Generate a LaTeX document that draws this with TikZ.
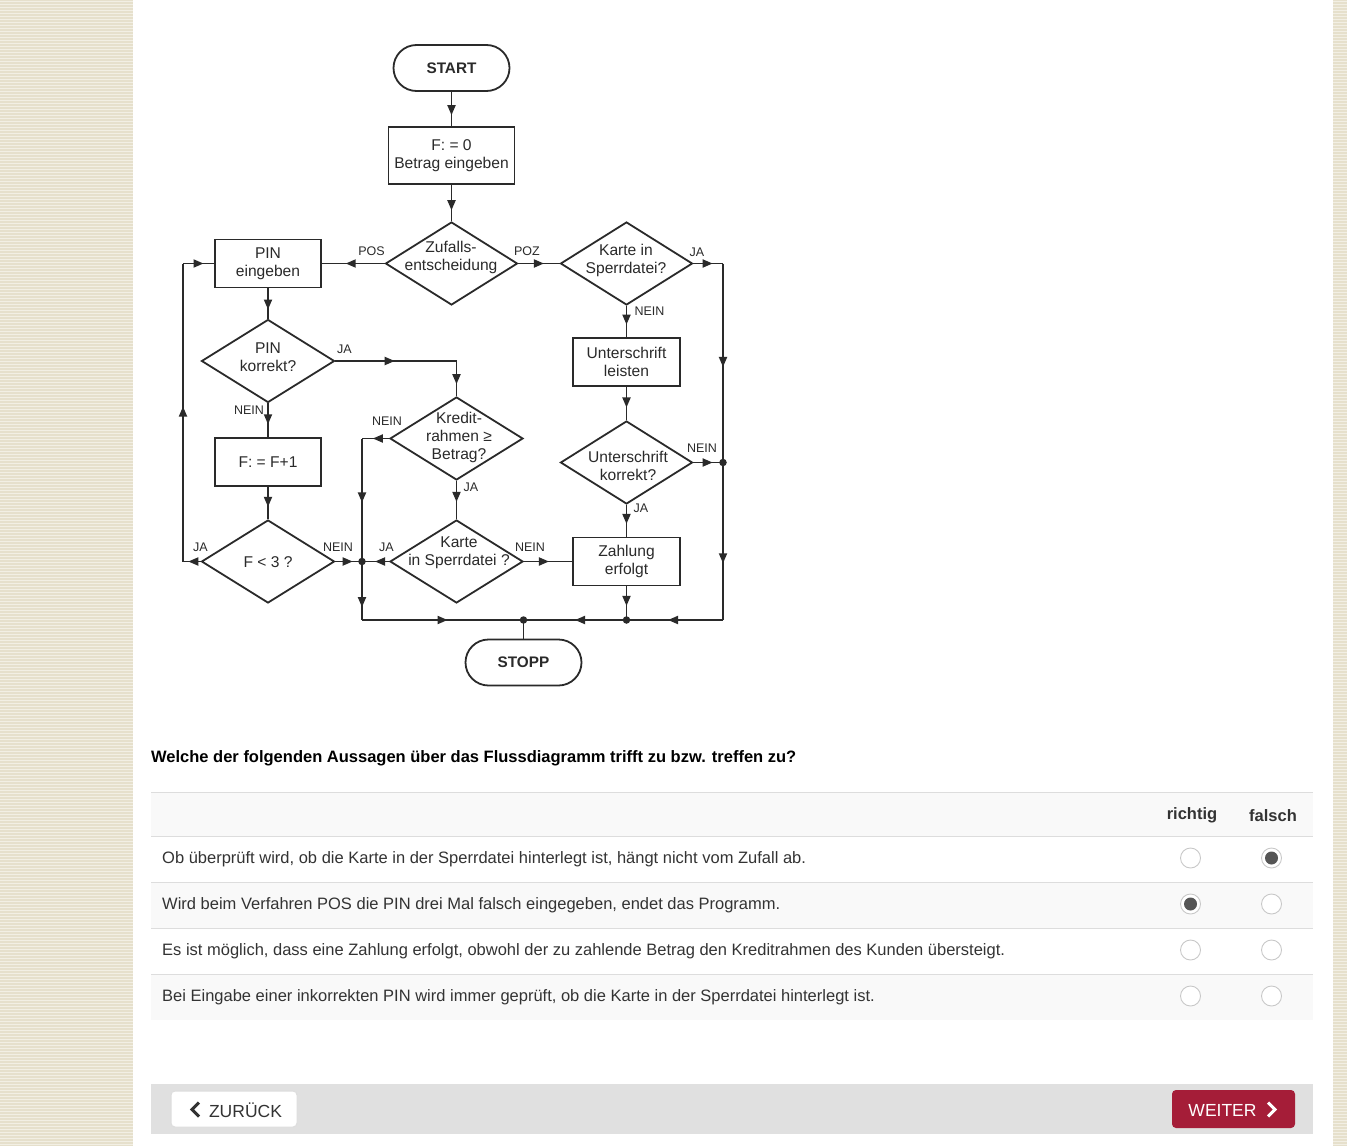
\documentclass[tikz,border=0pt]{standalone}
\usepackage{fontspec}
\setmainfont{Liberation Sans}
\usetikzlibrary{shapes.geometric,arrows.meta,decorations.markings}
\definecolor{beige}{HTML}{E6E0CC}
\definecolor{beigel}{HTML}{F2EFE4}
\definecolor{fcline}{HTML}{2A2A2A}
\definecolor{fctext}{HTML}{2A2A2A}
\definecolor{txt}{HTML}{333333}
\definecolor{rowgray}{HTML}{F9F9F9}
\definecolor{rule}{HTML}{DDDDDD}
\definecolor{footer}{HTML}{E0E0E0}
\definecolor{weiter}{HTML}{A51D38}
\definecolor{radio}{HTML}{C8C8C8}
\definecolor{radiofill}{HTML}{555555}
\newcommand{\fcf}{\fontsize{15.6}{18}\selectfont}
\newcommand{\smf}{\fontsize{12.5}{14}\selectfont}
\newcommand{\bdf}{\fontsize{16.5}{19}\selectfont}
\begin{document}
\begin{tikzpicture}[x=1pt,y=-1pt,
  box/.style={draw=fcline,line width=1.8pt,rectangle,minimum width=106pt,minimum height=48pt,inner sep=0pt,font=\fcf,align=center,text=fctext},
  dia/.style={draw=fcline,line width=1.8pt,diamond,minimum width=132pt,minimum height=83pt,inner sep=0pt},
  dtext/.style={font=\fcf,align=center,text=fctext,inner sep=0pt},
  term/.style={draw=fcline,line width=1.8pt,rectangle,rounded corners=23pt,minimum width=116pt,minimum height=46pt,inner sep=0pt,font=\fontsize{15.3}{18}\selectfont\bfseries,text=fctext},
  lab/.style={font=\smf,inner sep=0pt,text=fctext},
  conn/.style={draw=fcline,line width=1.8pt},
  ar/.style={conn,postaction={decorate},decoration={markings,mark=at position #1 with {\arrow[fcline]{Triangle[length=10pt,width=8pt]}}}},
  jdot/.style={circle,fill=fcline,inner sep=0pt,minimum size=7.5pt},
  rowtext/.style={font=\bdf,text=txt,anchor=west,inner sep=0pt},
  head/.style={font=\bdf\bfseries,text=txt,inner sep=0pt}
]
\useasboundingbox (0,0) rectangle (1347,1146);
% page background
\fill[white] (0,0) rectangle (1347,1146);
\fill[beige] (0,0) rectangle (133,1146);
\fill[beige] (1333,0) rectangle (1347,1146);
\foreach \yy in {1,4,...,1146} {
  \fill[beigel] (0,\yy) rectangle (133,\yy+1.4);
  \fill[beigel] (1333,\yy) rectangle (1347,\yy+1.4);
}

% ---------- flowchart nodes ----------
\node[term] (start) at (451.5,68) {START};
\node[box,minimum width=126pt,minimum height=57pt] (init) at (451.5,155.5) {F: = 0\\Betrag eingeben};
\node[dia] (zuf) at (451.5,263.5) {};
\node[dtext] (zuft) at (451,257) {Zufalls-\\entscheidung};
\node[box] (pin) at (268,263.5) {PIN\\eingeben};
\node[dia] (kart) at (626.5,263.5) {};
\node[dtext] (kartt) at (626,260) {Karte in\\Sperrdatei?};
\node[box,minimum width=107pt] (us) at (626.5,362) {Unterschrift\\leisten};
\node[dia] (usk) at (626.5,462.5) {};
\node[dtext] (uskt) at (628,466) {Unterschrift\\korrekt?};
\node[box,minimum width=107pt] (zahl) at (626.5,561.5) {Zahlung\\erfolgt};
\node[dia,minimum width=133pt] (pk) at (268,361) {};
\node[dtext] (pkt) at (268,357) {PIN\\korrekt?};
\node[box] (finc) at (268,462) {F: = F+1};
\node[dia,minimum width=133pt] (f3) at (268,561.5) {};
\node[dtext] (f3t) at (268,562) {F < 3 ?};
\node[dia,minimum width=133pt] (kr) at (456.5,438.5) {};
\node[dtext] (krt) at (459,437.5) {Kredit-\\rahmen ≥\\Betrag?};
\node[dia,minimum width=133pt] (k2) at (456.5,561.5) {};
\node[dtext] (k2t) at (459,553) {Karte\\in Sperrdatei ?};
\node[term] (stopp) at (523.5,662.5) {STOPP};

% ---------- junctions ----------
\coordinate (rja) at (723,263.5);
\node[jdot] (rn) at (723,462.5) {};
\coordinate (rb) at (723,620);
\node[jdot] (bz) at (626.5,620) {};
\node[jdot] (bs) at (523.5,620) {};
\coordinate (bl) at (362,620);
\node[jdot] (lj) at (362,561.5) {};
\coordinate (lk) at (362,438.5);
\coordinate (pj) at (456.5,361);
\coordinate (fl) at (183,561.5);
\coordinate (ft) at (183,263.5);

% ---------- connectors ----------
\draw[ar=0.68] (start.south) -- (init.north);
\draw[ar=0.7] (init.south) -- (zuf.north);
\draw[ar=0.62] (zuf.west) -- (pin.east);
\draw[ar=0.62] (zuf.east) -- (kart.west);
\draw[ar=0.65] (kart.east) -- (rja);
\draw[ar=0.52] (rja) -- (rn.center);
\draw[ar=0.64] (rn.center) -- (rb);
\draw[ar=0.6] (kart.south) -- (us.north);
\draw[ar=0.62] (us.south) -- (usk.north);
\draw[ar=0.65] (usk.east) -- (rn.center);
\draw[ar=0.6] (usk.south) -- (zahl.north);
\draw[ar=0.58] (zahl.south) -- (bz.center);
\draw[ar=0.57] (rb) -- (bz.center);
\draw[ar=0.5] (bz.center) -- (bs.center);
\draw[ar=0.53] (bl) -- (bs.center);
\draw[conn] (bs.center) -- (stopp.north);

\draw[ar=0.7] (pin.south) -- (pk.north);
\draw[ar=0.49] (pk.east) -- (pj);
\draw[ar=0.66] (pj) -- (kr.north);
\draw[ar=0.62] (pk.south) -- (finc.north);
\draw[ar=0.62] (finc.south) -- (f3.north);
\draw[ar=0.7] (f3.west) -- (fl);
\draw[ar=0.52] (fl) -- (ft);
\draw[ar=0.66] (ft) -- (pin.west);
\draw[ar=0.65] (f3.east) -- (lj.center);
\draw[ar=0.6] (kr.west) -- (lk);
\draw[ar=0.52] (lk) -- (lj.center);
\draw[ar=0.78] (lj.center) -- (bl);
\draw[ar=0.55] (kr.south) -- (k2.north);
\draw[ar=0.52] (k2.west) -- (lj.center);
\draw[ar=0.52] (k2.east) -- (zahl.west);

% ---------- connector labels ----------
\node[lab] (lpos) at (371.5,251.5) {POS};
\node[lab] (lpoz) at (527,251.5) {POZ};
\node[lab] (lja1) at (697,252.5) {JA};
\node[lab] (lnein1) at (649.5,311.5) {NEIN};
\node[lab] (lnein2) at (702,448.5) {NEIN};
\node[lab] (lja2) at (641,508) {JA};
\node[lab] (lja3) at (344.5,349.5) {JA};
\node[lab] (lnein3) at (249,410.5) {NEIN};
\node[lab] (lnein4) at (387,421.5) {NEIN};
\node[lab] (lja4) at (471,487) {JA};
\node[lab] (lja5) at (200.5,547.5) {JA};
\node[lab] (lnein5) at (338,547.5) {NEIN};
\node[lab] (lja6) at (386.5,547.5) {JA};
\node[lab] (lnein6) at (530,547.5) {NEIN};

% ---------- question ----------
\node[font=\bdf\bfseries,anchor=west,inner sep=0pt] (q) at (151,758.5) {Welche der folgenden Aussagen über das Flussdiagramm trifft zu bzw. treffen zu?};

% ---------- table ----------
\fill[rowgray] (151,792) rectangle (1313,836);
\fill[rowgray] (151,882) rectangle (1313,928);
\fill[rowgray] (151,974) rectangle (1313,1020);
\foreach \yy in {792.5,836.5,882.5,928.5,974.5}
  \draw[rule,line width=1pt] (151,\yy) -- (1313,\yy);
\node[head] (hr) at (1192,815.5) {richtig};
\node[head] (hf) at (1273,815.5) {falsch};
\node[rowtext] (r1) at (162,859.5) {Ob überprüft wird, ob die Karte in der Sperrdatei hinterlegt ist, hängt nicht vom Zufall ab.};
\node[rowtext] (r2) at (162,905.5) {Wird beim Verfahren POS die PIN drei Mal falsch eingegeben, endet das Programm.};
\node[rowtext] (r3) at (162,951.5) {Es ist möglich, dass eine Zahlung erfolgt, obwohl der zu zahlende Betrag den Kreditrahmen des Kunden übersteigt.};
\node[rowtext] (r4) at (162,997.5) {Bei Eingabe einer inkorrekten PIN wird immer geprüft, ob die Karte in der Sperrdatei hinterlegt ist.};
\foreach \yy in {858,904,950,996} {
  \draw[radio,fill=white,line width=0.9pt] (1190.5,\yy) circle (10pt);
  \draw[radio,fill=white,line width=0.9pt] (1271.5,\yy) circle (10pt);
}
\fill[radiofill] (1271.5,858) circle (6.5pt);
\fill[radiofill] (1190.5,904) circle (6.5pt);

% ---------- footer ----------
\fill[footer] (151,1084) rectangle (1313,1134);
\draw[fill=white,draw=rule,rounded corners=4pt,line width=1pt] (171,1091) rectangle (297,1127);
\node[font=\fontsize{17.5}{20}\selectfont,text=txt,inner sep=0pt] (zur) at (245.5,1110) {ZURÜCK};
\draw[txt,line width=3pt,line cap=butt,line join=miter] (199,1102.5) -- (192,1109.5) -- (199,1116.5);
\fill[weiter,rounded corners=4pt] (1172,1090) rectangle (1295,1128);
\node[font=\fontsize{17.5}{20}\selectfont,text=white,inner sep=0pt] (wei) at (1222.5,1110) {WEITER};
\draw[white,line width=3pt,line cap=butt,line join=miter] (1268,1102.5) -- (1275,1109.5) -- (1268,1116.5);
\end{tikzpicture}
\end{document}
